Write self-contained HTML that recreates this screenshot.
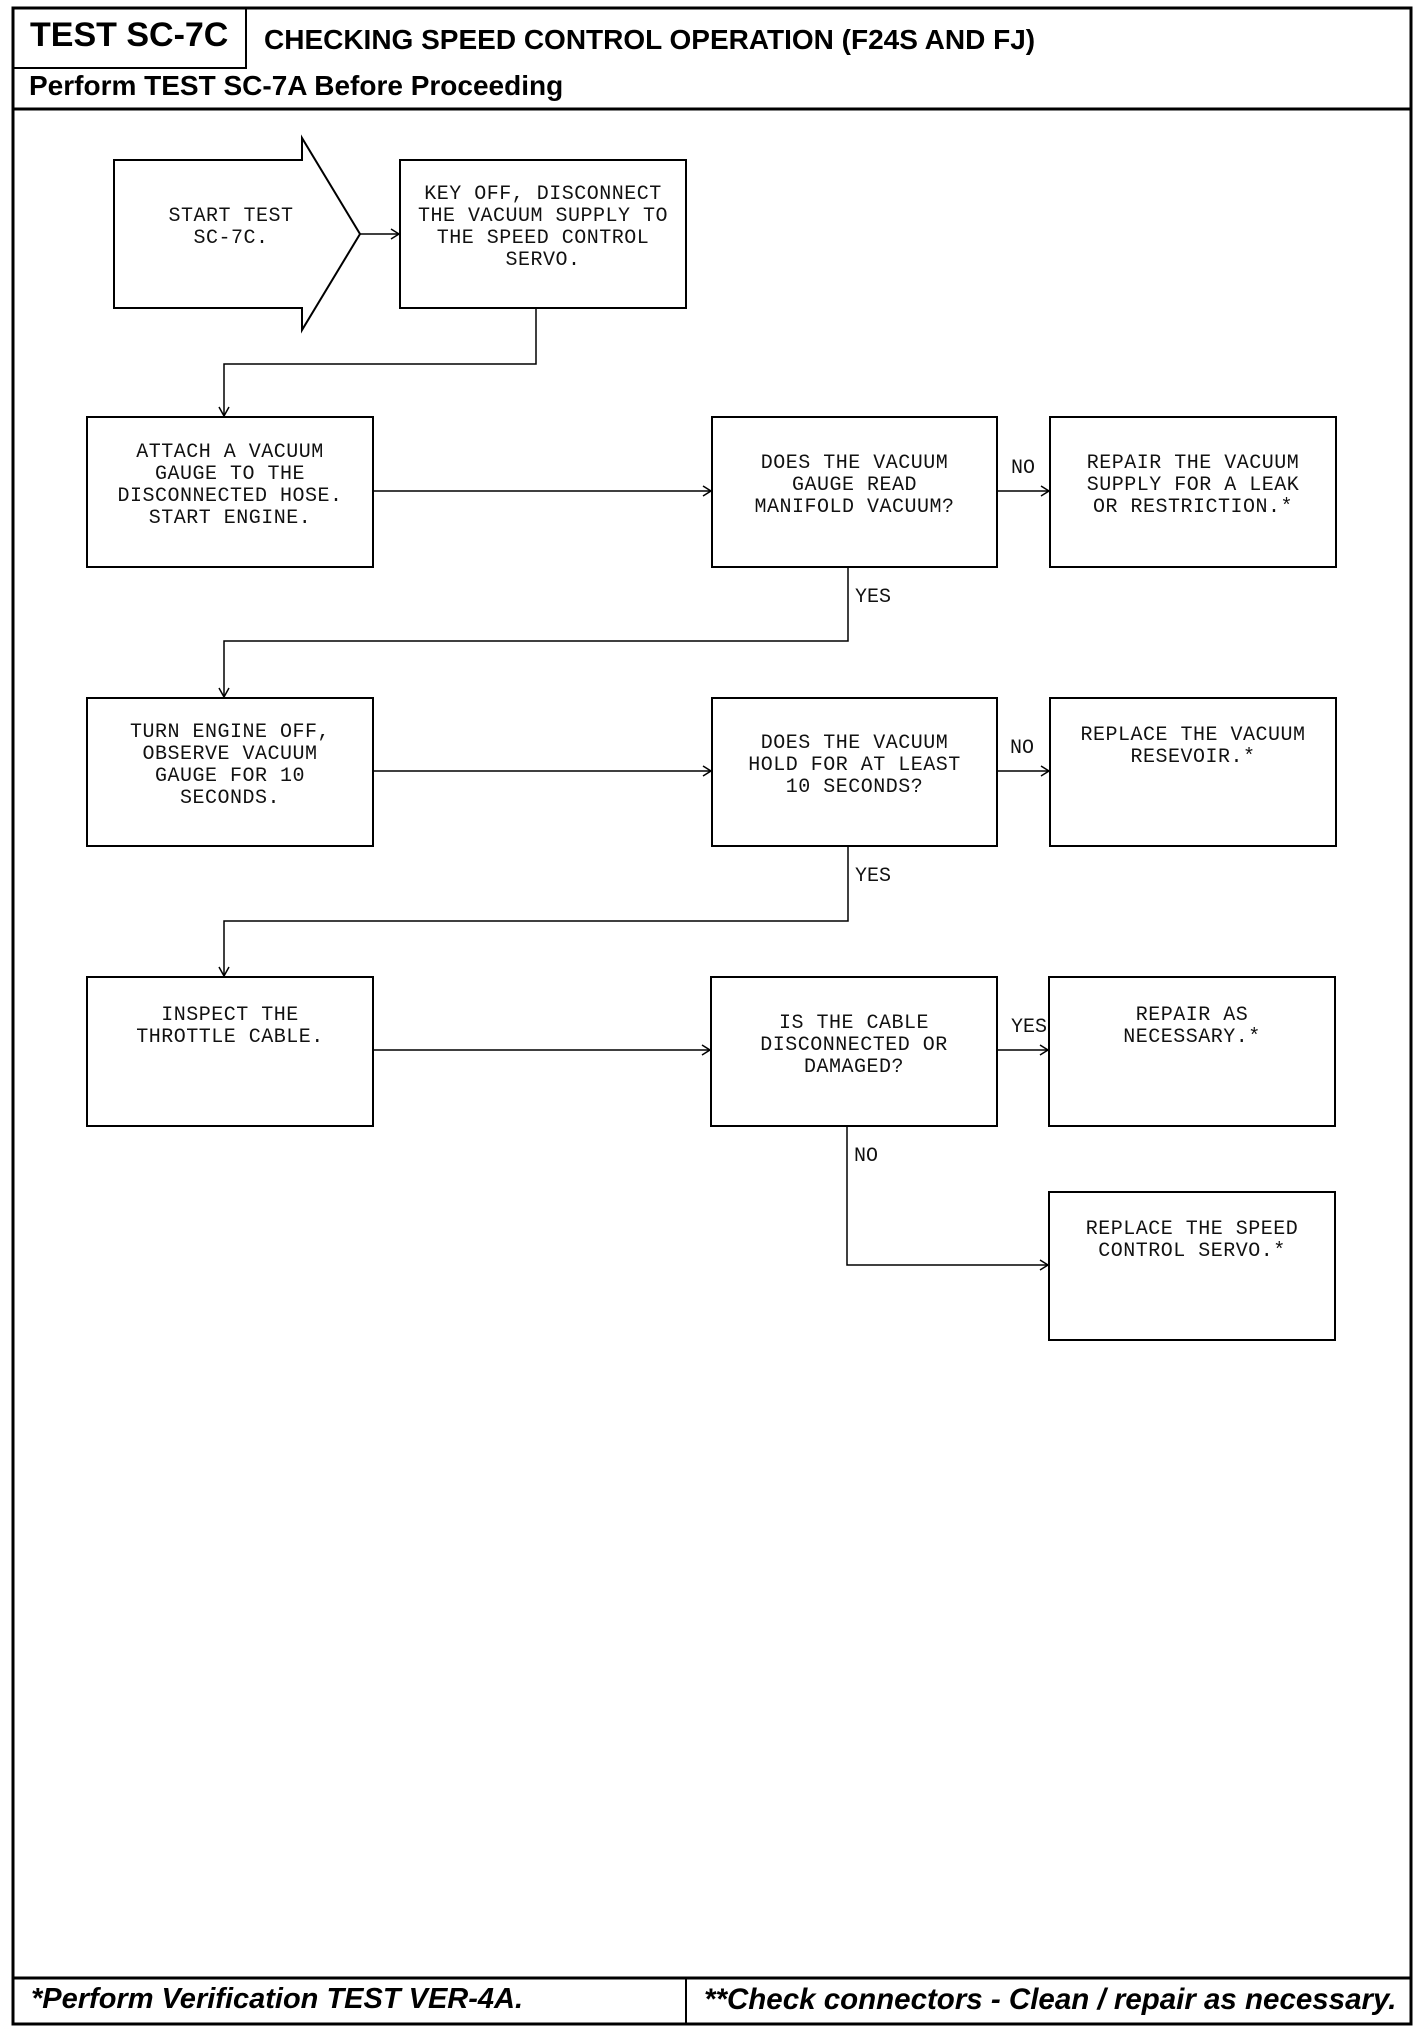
<!DOCTYPE html>
<html><head><meta charset="utf-8"><style>
body{margin:0;width:1424px;height:2032px;background:#fff;position:relative;overflow:hidden;font-family:"Liberation Sans",sans-serif;}
.t{position:absolute;display:flex;align-items:center;justify-content:center;text-align:center;font-family:"Liberation Mono",monospace;font-size:20px;line-height:22px;color:#111;white-space:pre;letter-spacing:0.5px;padding-bottom:12px;box-sizing:border-box;}
.l{position:absolute;font-family:"Liberation Mono",monospace;font-size:20px;color:#111;}
.h{position:absolute;font-weight:bold;color:#000;white-space:nowrap;}
</style></head><body>
<svg width="1424" height="2032" style="position:absolute;left:0;top:0">
<g fill="none" stroke="#000">
<rect x="13" y="8" width="1398" height="2016" stroke-width="3"/>
<rect x="13" y="8" width="233" height="60" stroke-width="2"/>
<line x1="13" y1="109" x2="1411" y2="109" stroke-width="3"/>
<line x1="13" y1="1978" x2="1411" y2="1978" stroke-width="3"/>
<line x1="686" y1="1978" x2="686" y2="2024" stroke-width="2"/>
<g stroke-width="2">
<polygon points="114,160 302,160 302,138 360,234 302,330 302,308 114,308"/>
<rect x="400" y="160" width="286" height="148"/>
<rect x="87" y="417" width="286" height="150"/>
<rect x="712" y="417" width="285" height="150"/>
<rect x="1050" y="417" width="286" height="150"/>
<rect x="87" y="698" width="286" height="148"/>
<rect x="712" y="698" width="285" height="148"/>
<rect x="1050" y="698" width="286" height="148"/>
<rect x="87" y="977" width="286" height="149"/>
<rect x="711" y="977" width="286" height="149"/>
<rect x="1049" y="977" width="286" height="149"/>
<rect x="1049" y="1192" width="286" height="148"/>
</g>
<g stroke-width="1.5">
<line x1="360" y1="234" x2="398" y2="234"/>
<polyline points="536,308 536,364 224,364 224,415"/>
<line x1="373" y1="491" x2="710" y2="491"/>
<line x1="997" y1="491" x2="1048" y2="491"/>
<polyline points="848,567 848,641 224,641 224,696"/>
<line x1="373" y1="771" x2="710" y2="771"/>
<line x1="997" y1="771" x2="1048" y2="771"/>
<polyline points="848,846 848,921 224,921 224,975"/>
<line x1="373" y1="1050" x2="709" y2="1050"/>
<line x1="997" y1="1050" x2="1047" y2="1050"/>
<polyline points="847,1126 847,1265 1047,1265"/>
</g>
<g stroke-width="1.5">
<polyline points="391,229 399,234 391,239"/>
<polyline points="219,407 224,416 229,407"/>
<polyline points="703,486 711,491 703,496"/>
<polyline points="1041,486 1049,491 1041,496"/>
<polyline points="219,688 224,697 229,688"/>
<polyline points="703,766 711,771 703,776"/>
<polyline points="1041,766 1049,771 1041,776"/>
<polyline points="219,967 224,976 229,967"/>
<polyline points="702,1045 710,1050 702,1055"/>
<polyline points="1040,1045 1048,1050 1040,1055"/>
<polyline points="1040,1260 1048,1265 1040,1270"/>
</g>
</g></svg>
<div class="h" style="left:30px;top:16px;font-size:34px;">TEST SC-7C</div>
<div class="h" style="left:264px;top:24px;font-size:28px;">CHECKING SPEED CONTROL OPERATION (F24S AND FJ)</div>
<div class="h" style="left:29px;top:70px;font-size:28px;">Perform TEST SC-7A Before Proceeding</div>
<div class="h" style="left:31px;top:1983px;font-size:29px;font-style:italic;">*Perform Verification TEST VER-4A.</div>
<div class="h" style="left:704px;top:1983px;font-size:29.5px;font-style:italic;">**Check connectors - Clean / repair as necessary.</div>

<div class="t" style="left:114px;top:160px;width:234px;height:148px;">START TEST
SC-7C.</div>
<div class="t" style="left:400px;top:160px;width:286px;height:148px;">KEY OFF, DISCONNECT
THE VACUUM SUPPLY TO
THE SPEED CONTROL
SERVO.</div>
<div class="t" style="left:87px;top:417px;width:286px;height:150px;">ATTACH A VACUUM
GAUGE TO THE
DISCONNECTED HOSE.
START ENGINE.</div>
<div class="t" style="left:712px;top:417px;width:285px;height:150px;">DOES THE VACUUM
GAUGE READ
MANIFOLD VACUUM?</div>
<div class="t" style="left:1050px;top:417px;width:286px;height:150px;">REPAIR THE VACUUM
SUPPLY FOR A LEAK
OR RESTRICTION.*</div>
<div class="t" style="left:87px;top:698px;width:286px;height:148px;">TURN ENGINE OFF,
OBSERVE VACUUM
GAUGE FOR 10
SECONDS.</div>
<div class="t" style="left:712px;top:698px;width:285px;height:148px;">DOES THE VACUUM
HOLD FOR AT LEAST
10 SECONDS?</div>
<div class="t" style="left:1050px;top:698px;width:286px;height:148px;padding-bottom:50px;">REPLACE THE VACUUM
RESEVOIR.*</div>
<div class="t" style="left:87px;top:977px;width:286px;height:149px;padding-bottom:50px;">INSPECT THE
THROTTLE CABLE.</div>
<div class="t" style="left:711px;top:977px;width:286px;height:149px;">IS THE CABLE
DISCONNECTED OR
DAMAGED?</div>
<div class="t" style="left:1049px;top:977px;width:286px;height:149px;padding-bottom:50px;">REPAIR AS
NECESSARY.*</div>
<div class="t" style="left:1049px;top:1192px;width:286px;height:148px;padding-bottom:50px;">REPLACE THE SPEED
CONTROL SERVO.*</div>

<div class="l" style="left:1011px;top:457px;">NO</div>
<div class="l" style="left:855px;top:586px;">YES</div>
<div class="l" style="left:1010px;top:737px;">NO</div>
<div class="l" style="left:855px;top:865px;">YES</div>
<div class="l" style="left:1011px;top:1016px;">YES</div>
<div class="l" style="left:854px;top:1145px;">NO</div>
</body></html>
